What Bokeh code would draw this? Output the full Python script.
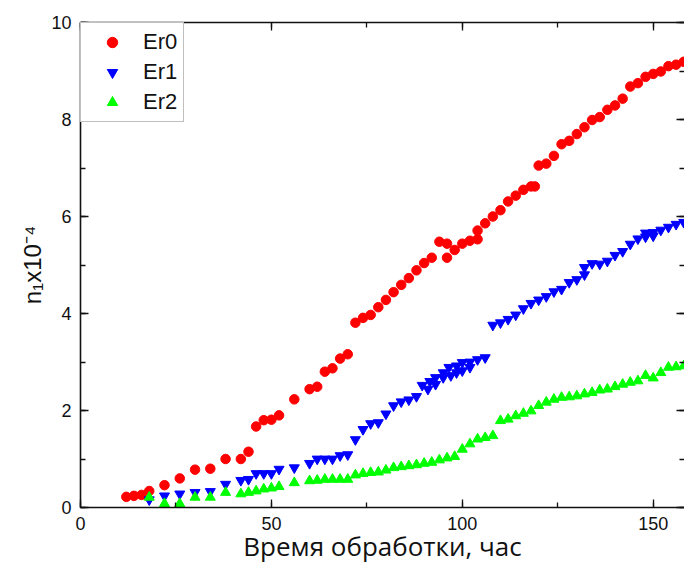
from bokeh.plotting import figure
from bokeh.models import (Range1d, LinearAxis, SingleIntervalTicker, Legend, LegendItem,
                          CustomLabelingPolicy)
from bokeh.embed import file_html
from bokeh.resources import INLINE

# ---- data ----
er0_x = [12, 14, 16, 18, 22, 26, 30, 34, 38, 42, 44, 46, 48, 50, 52, 56, 60, 62, 64, 66,
         68, 70, 72, 74, 76, 78, 80, 82, 84, 86, 88, 90, 92, 94, 96, 96, 98, 100, 102, 104,
         104, 106, 108, 110, 112, 114, 116, 118, 119, 120, 122, 124, 126, 128, 130, 132, 134, 136, 138, 140,
         142, 144, 146, 148, 150, 152, 154, 156, 158]
er0_y = [0.22, 0.24, 0.26, 0.34, 0.46, 0.60, 0.78, 0.80, 1.00, 1.00, 1.15, 1.67, 1.80, 1.81, 1.90, 2.23, 2.44, 2.49, 2.80, 2.87,
         3.07, 3.16, 3.81, 3.91, 3.97, 4.13, 4.28, 4.44, 4.59, 4.73, 4.89, 5.04, 5.15, 5.48, 5.44, 5.15, 5.31, 5.44, 5.50, 5.71,
         5.53, 5.86, 6.00, 6.13, 6.31, 6.43, 6.55, 6.62, 6.62, 7.05, 7.09, 7.25, 7.49, 7.56, 7.70, 7.84, 7.99, 8.05, 8.20, 8.29,
         8.43, 8.68, 8.75, 8.88, 8.94, 8.99, 9.10, 9.13, 9.19]

er1_x = [18, 22, 26, 30, 34, 38, 42, 44, 46, 48, 50, 52, 56, 60, 62, 64, 66, 68, 70, 72,
         74, 76, 78, 80, 82, 84, 86, 88, 89.5, 91, 91.5, 93, 93, 95, 95, 97, 96.5, 98.5, 98.5, 100,
         100, 102, 102, 104, 106, 108, 110, 112, 114, 116, 118, 120, 122, 124, 126, 128, 130, 132, 132, 134,
         136, 138, 140, 142, 144, 146, 148, 148, 150, 150, 152, 154, 156, 158]
er1_y = [0.16, 0.24, 0.28, 0.31, 0.33, 0.48, 0.56, 0.58, 0.70, 0.70, 0.70, 0.79, 0.82, 0.91, 1.00, 1.00, 1.00, 1.07, 1.09, 1.40,
         1.61, 1.73, 1.75, 1.93, 2.10, 2.18, 2.22, 2.29, 2.52, 2.44, 2.60, 2.54, 2.68, 2.68, 2.78, 2.72, 2.89, 2.78, 2.92, 2.82,
         2.99, 2.89, 3.00, 3.05, 3.09, 3.76, 3.81, 3.88, 3.97, 4.10, 4.21, 4.28, 4.35, 4.45, 4.50, 4.64, 4.70, 4.80, 4.95, 5.03,
         5.02, 5.08, 5.20, 5.28, 5.43, 5.54, 5.66, 5.58, 5.67, 5.60, 5.72, 5.78, 5.84, 5.88]

er2_x = [18, 22, 26, 30, 34, 38, 42, 44, 46, 48, 50, 52, 56, 60, 62, 64, 66, 68, 70, 72,
         74, 76, 78, 80, 82, 84, 86, 88, 90, 92, 94, 96, 98, 100, 102, 104, 106, 108, 110, 112,
         114, 116, 118, 120, 122, 124, 126, 128, 130, 132, 134, 136, 138, 140, 142, 144, 146, 148, 150, 152,
         154, 156, 158]
er2_y = [0.21, 0.08, 0.08, 0.21, 0.21, 0.31, 0.28, 0.31, 0.34, 0.38, 0.40, 0.43, 0.51, 0.55, 0.56, 0.58, 0.58, 0.58, 0.58, 0.67,
         0.70, 0.72, 0.73, 0.77, 0.82, 0.84, 0.86, 0.88, 0.91, 0.93, 0.98, 1.02, 1.05, 1.20, 1.31, 1.41, 1.44, 1.48, 1.79, 1.82,
         1.89, 1.94, 1.99, 2.10, 2.17, 2.23, 2.27, 2.28, 2.30, 2.34, 2.37, 2.42, 2.44, 2.49, 2.54, 2.58, 2.61, 2.72, 2.67, 2.78,
         2.89, 2.90, 2.92]

series_labels = ["Er0", "Er1", "Er2"]
x_label = "Время обработки, час"
y_label = "n₁x10⁻⁴"

# ---- figure ----
p = figure(width=684, height=583, output_backend="svg", toolbar_location=None,
           x_range=Range1d(0, 158.2), y_range=Range1d(0, 10),
           x_axis_type=None, y_axis_type=None,
           min_border_left=80, min_border_right=0, min_border_top=22, min_border_bottom=76)
p.outline_line_color = None
p.background_fill_color = "white"
p.border_fill_color = "white"

TICK_FONT = "Liberation Sans"

no_labels = CustomLabelingPolicy(code="""
const idx = [...indices];
for (const i of idx) {
  if (typeof indices.unset === 'function') { indices.unset(i); } else { indices.set(i, false); }
}
return indices;
""")


def style_axis(ax, labels=True, line=True):
    ax.axis_line_color = "#111111" if line else None
    ax.axis_line_width = 1.6
    ax.major_tick_line_color = "#111111"
    ax.minor_tick_line_color = "#111111"
    ax.major_tick_line_width = 1.3
    ax.minor_tick_line_width = 1.3
    ax.major_tick_in = 8
    ax.major_tick_out = 0
    ax.minor_tick_in = 5
    ax.minor_tick_out = 0
    if labels:
        ax.major_label_text_font = TICK_FONT
        ax.major_label_text_font_size = "18px"
        ax.major_label_text_color = "#111111"
        ax.major_label_standoff = 9
    else:
        ax.major_label_text_font_size = "0px"
        ax.major_label_standoff = 0
        ax.major_label_policy = no_labels


xb = LinearAxis(ticker=SingleIntervalTicker(interval=50, num_minor_ticks=2))
style_axis(xb)
xb.axis_label = x_label
xb.axis_label_text_font = "Open Sans"
xb.axis_label_text_font_size = "26px"
xb.axis_label_text_font_style = "normal"
xb.axis_label_text_color = "#111111"
xb.axis_label_standoff = -5
p.add_layout(xb, "below")

yl = LinearAxis(ticker=SingleIntervalTicker(interval=2, num_minor_ticks=2))
style_axis(yl)
yl.axis_label = y_label
yl.axis_label_text_font = TICK_FONT
yl.axis_label_text_font_size = "24px"
yl.axis_label_text_font_style = "normal"
yl.axis_label_text_color = "#111111"
yl.axis_label_standoff = 2
p.add_layout(yl, "left")

xt = LinearAxis(ticker=SingleIntervalTicker(interval=50, num_minor_ticks=2))
style_axis(xt, labels=False)
p.add_layout(xt, "above")

yr = LinearAxis(ticker=SingleIntervalTicker(interval=2, num_minor_ticks=2))
style_axis(yr, labels=False, line=False)
p.add_layout(yr, "right")

# ---- data glyphs ----
r0 = p.scatter(er0_x, er0_y, marker="circle", size=9.5, fill_color="#ff0000", line_color="#ff0000")
r1 = p.scatter(er1_x, er1_y, marker="inverted_triangle", size=10, fill_color="#0000ff", line_color="#0000ff")
r2 = p.scatter(er2_x, er2_y, marker="triangle", size=10, fill_color="#00ff00", line_color="#00ff00")

legend = Legend(items=[LegendItem(label=series_labels[0], renderers=[r0]),
                       LegendItem(label=series_labels[1], renderers=[r1]),
                       LegendItem(label=series_labels[2], renderers=[r2])],
                location="top_left", margin=0, padding=6, spacing=4,
                glyph_width=50, glyph_height=26, label_height=26, label_standoff=6,
                label_text_font=TICK_FONT, label_text_font_size="22px", label_text_color="#111111",
                border_line_color="#808080", border_line_width=1.2,
                background_fill_color="white", background_fill_alpha=1.0)
p.add_layout(legend)

open("out.html", "w").write(file_html(p, INLINE))
